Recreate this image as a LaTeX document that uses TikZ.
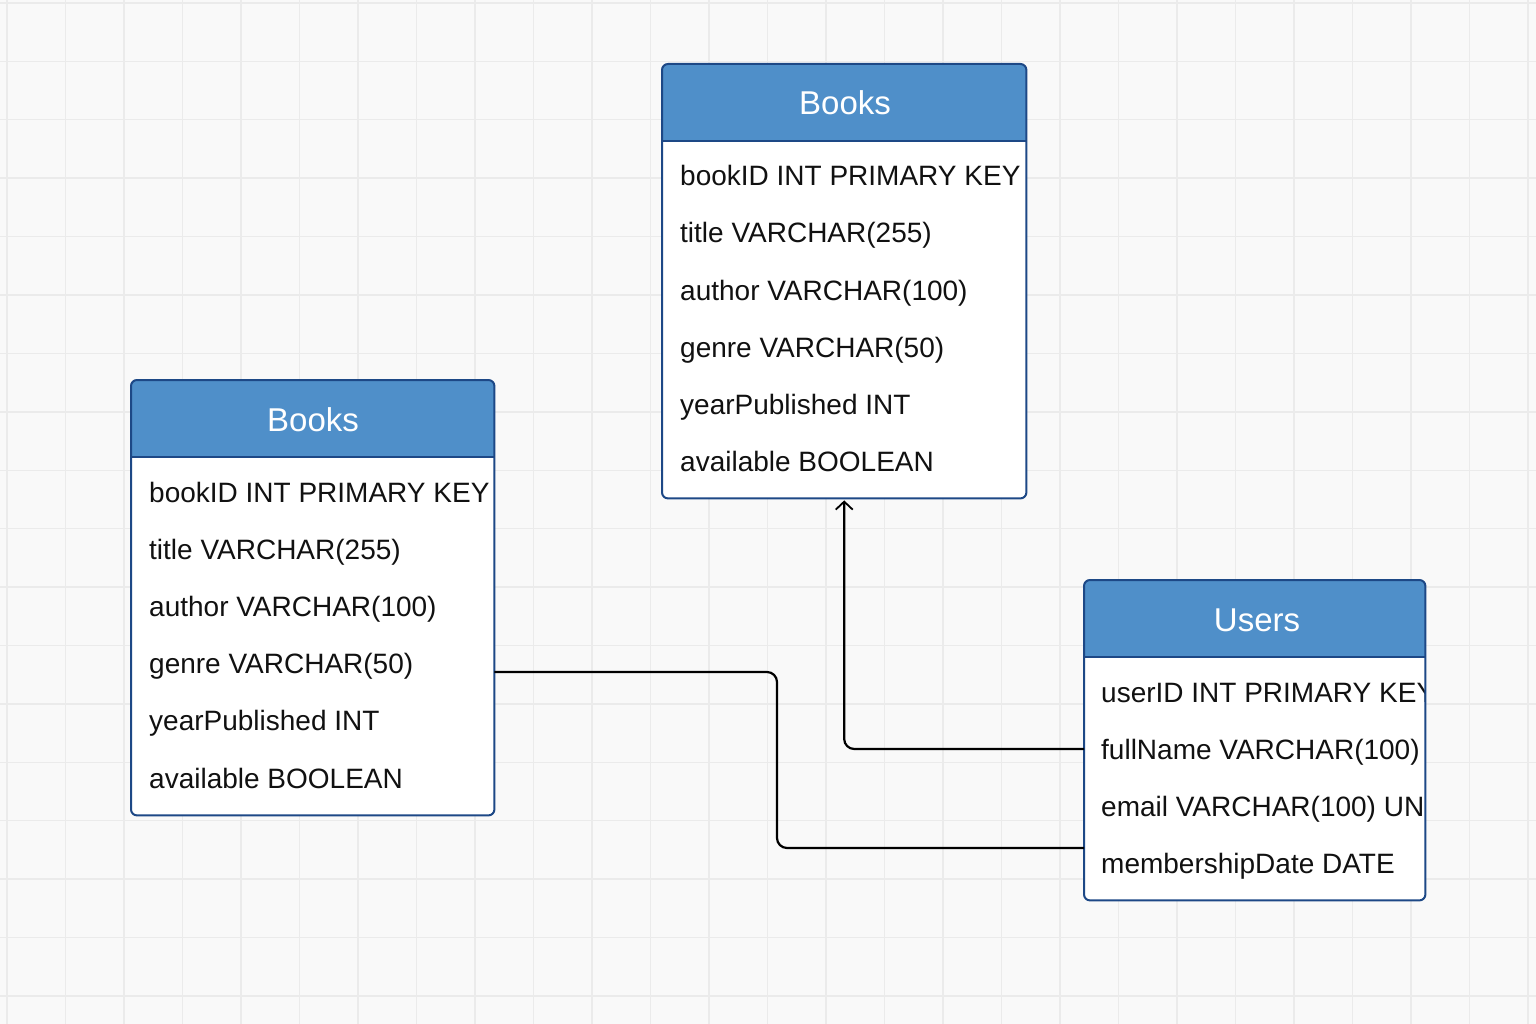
\documentclass[tikz,border=0pt]{standalone}
\usepackage{fontspec}
\setmainfont{Liberation Sans}
\usetikzlibrary{arrows.meta,calc}
\definecolor{bg}{HTML}{F9F9F9}
\definecolor{gridc}{HTML}{EBEBEB}
\definecolor{hdr}{HTML}{4F8FC9}
\definecolor{bord}{HTML}{1D4886}
\definecolor{txt}{HTML}{111111}
\begin{document}
\begin{tikzpicture}[x=1pt,y=-1pt,
  tblbody/.style={fill=white, inner sep=0pt, anchor=north west},
  tbloutline/.style={draw=bord, line width=2pt, rounded corners=6pt},
  hdrfill/.style={fill=hdr},
  divider/.style={draw=bord, line width=1.5pt},
  ttl/.style={text=white, font=\fontsize{33}{36}\selectfont, inner sep=0pt, text height=24pt, text depth=0pt},
  rowtxt/.style={text=txt, font=\fontsize{28}{30}\selectfont, inner sep=0pt, anchor=west, text height=20pt, text depth=0pt},
  conn/.style={draw=black, line width=2.2pt, rounded corners=10pt},
  tip/.style={-{Straight Barb[length=8pt,width=17pt,line width=1.8pt]}}
]
\useasboundingbox (0,0) rectangle (1536,1024);
\fill[bg] (0,0) rectangle (1536,1024);
% grid
\foreach \i in {0,...,26} {
  \draw[gridc, line width=1.4pt] ({7+58.5*\i},0) -- ({7+58.5*\i},1024);
}
\foreach \j in {0,...,17} {
  \draw[gridc, line width=1.4pt] (0,{3+58.4*\j}) -- (1536,{3+58.4*\j});
}

% ---------- top Books table ----------
\node[tblbody, minimum width=364pt, minimum height=434pt] (bt) at (662,64) {};
\fill[hdrfill] (bt.west |- 0,141) [rounded corners=6pt] -- (bt.north west) -- (bt.north east) [sharp corners] -- (bt.east |- 0,141) -- cycle;
\draw[divider] (bt.west |- 0,141) -- (bt.east |- 0,141);
\draw[tbloutline] (bt.north west) rectangle (bt.south east);
\node[ttl] (btt) at (845,103) {Books};
\node[rowtxt] (bt1) at (680,176) {bookID INT PRIMARY KEY};
\node[rowtxt] (bt2) at (680,233) {title VARCHAR(255)};
\node[rowtxt] (bt3) at (680,290) {author VARCHAR(100)};
\node[rowtxt] (bt4) at (680,347) {genre VARCHAR(50)};
\node[rowtxt] (bt5) at (680,404) {yearPublished INT};
\node[rowtxt] (bt6) at (680,461) {available BOOLEAN};

% ---------- left Books table ----------
\node[tblbody, minimum width=363pt, minimum height=435pt] (bl) at (131,380) {};
\fill[hdrfill] (bl.west |- 0,457) [rounded corners=6pt] -- (bl.north west) -- (bl.north east) [sharp corners] -- (bl.east |- 0,457) -- cycle;
\draw[divider] (bl.west |- 0,457) -- (bl.east |- 0,457);
\draw[tbloutline] (bl.north west) rectangle (bl.south east);
\node[ttl] (blt) at (313,419) {Books};
\node[rowtxt] (bl1) at (149,492) {bookID INT PRIMARY KEY};
\node[rowtxt] (bl2) at (149,549) {title VARCHAR(255)};
\node[rowtxt] (bl3) at (149,606) {author VARCHAR(100)};
\node[rowtxt] (bl4) at (149,663) {genre VARCHAR(50)};
\node[rowtxt] (bl5) at (149,720) {yearPublished INT};
\node[rowtxt] (bl6) at (149,778) {available BOOLEAN};

% ---------- Users table ----------
\node[tblbody, minimum width=341pt, minimum height=320pt] (us) at (1084,580) {};
\fill[hdrfill] (us.west |- 0,657) [rounded corners=6pt] -- (us.north west) -- (us.north east) [sharp corners] -- (us.east |- 0,657) -- cycle;
\draw[divider] (us.west |- 0,657) -- (us.east |- 0,657);
\node[ttl] (ust) at (1257,619) {Users};
\begin{scope}
\clip (1084,657) rectangle (1424,900);
\node[rowtxt] (us1) at (1101,692) {userID INT PRIMARY KEY};
\node[rowtxt] (us2) at (1101,749) {fullName VARCHAR(100)};
\node[rowtxt] (us3) at (1101,806) {email VARCHAR(100) UN};
\node[rowtxt] (us4) at (1101,863) {membershipDate DATE};
\end{scope}
\draw[tbloutline] (us.north west) rectangle (us.south east);

% ---------- connectors ----------
\draw[conn, tip] (us.west |- us2) -| ([yshift=-2pt]bt.south);
\draw[conn] ([yshift=-9pt]bl.east |- bl4) -- (777,672) -- (777,848) -- ([yshift=15pt]us.west |- us4);
\end{tikzpicture}
\end{document}
